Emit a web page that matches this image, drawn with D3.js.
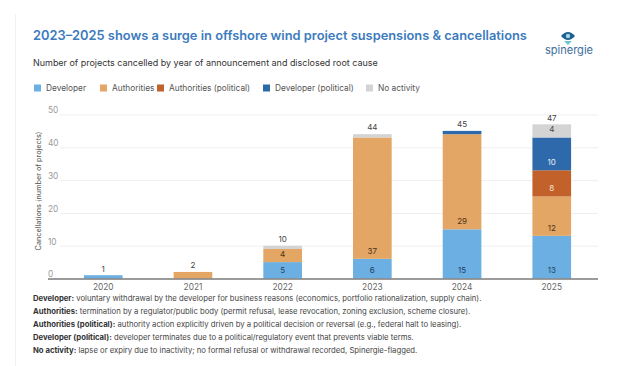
<!DOCTYPE html>
<html><head><meta charset="utf-8">
<script src="https://cdn.jsdelivr.net/npm/d3@7"></script>
<style>
html,body{margin:0;padding:0;background:#fff;}
svg{display:block;font-family:Inter,"Open Sans",sans-serif;}
</style></head>
<body><svg id="c" width="622" height="366"></svg>
<script>
// ---- data ----
const years = ["2020","2021","2022","2023","2024","2025"];
const seriesNames = ["Developer","Authorities","Authorities (political)","Developer (political)","No activity"];
const developer = [1,0,5,6,15,13];
const authorities = [0,2,4,37,29,12];
const authoritiesPolitical = [0,0,0,0,0,8];
const developerPolitical = [0,0,0,0,1,10];
const noActivity = [0,0,1,1,0,4];
const yTicks = [0,10,20,30,40,50];
const titleText = "2023–2025 shows a surge in offshore wind project suspensions & cancellations";
const subtitleText = "Number of projects cancelled by year of announcement and disclosed root cause";
const yTitle = "Cancellations (number of projects)";
const notes = [
  ["Developer:", " voluntary withdrawal by the developer for business reasons (economics, portfolio rationalization, supply chain)."],
  ["Authorities:", " termination by a regulator/public body (permit refusal, lease revocation, zoning exclusion, scheme closure)."],
  ["Authorities (political):", " authority action explicitly driven by a political decision or reversal (e.g., federal halt to leasing)."],
  ["Developer (political):", " developer terminates due to a political/regulatory event that prevents viable terms."],
  ["No activity:", " lapse or expiry due to inactivity; no formal refusal or withdrawal recorded, Spinergie-flagged."]
];

// ---- styles ----
const colors = ["#6cb0e3","#e4a664","#c2622a","#2e6aab","#d4d4d4"];
const labelColors = ["#23405e","#4a3318","#f6e3d4","#e6eef8","#444"];

const svg = d3.select("#c");
function fit(sel, target){
  const w = sel.node().getComputedTextLength();
  const fs = parseFloat(sel.attr("font-size"));
  sel.attr("font-size", (fs*target/w).toFixed(2));
}

// card border
svg.append("line").attr("x1",15.5).attr("x2",15.5).attr("y1",14).attr("y2",366)
  .attr("stroke","#edf2f8").attr("stroke-width",1);

// title
const t = svg.append("text").attr("x",33).attr("y",40).attr("font-size",15)
  .attr("font-weight",600).attr("fill","#3c7bbd").text(titleText);
fit(t, 494);
const st = svg.append("text").attr("x",33).attr("y",66).attr("font-size",9)
  .attr("fill","#333").text(subtitleText);
fit(st, 345);

// logo
const logo = svg.append("g");
logo.append("path").attr("d","M561,36 Q568,28 575,36 Q568,44 561,36 Z").attr("fill","#1f5f8f");
logo.append("circle").attr("cx",568).attr("cy",36).attr("r",2.2).attr("fill","#9fd6e8");
logo.append("path").attr("d","M564,41 L572,41 L568,45 Z").attr("fill","#43b7c9").attr("opacity",0.8);
const lt = svg.append("text").attr("x",545).attr("y",54).attr("font-size",10)
  .attr("fill","#3d6e9c").text("spinergie");
fit(lt, 48);

// legend
const legX = [34,100,157,263,366];
const leg = svg.append("g");
seriesNames.forEach((n,i)=>{
  leg.append("rect").attr("x",legX[i]).attr("y",84.5).attr("width",7).attr("height",7).attr("fill",colors[i]);
  leg.append("text").attr("x",legX[i]+12).attr("y",91).attr("font-size",8.3).attr("fill","#555").text(n);
});

// scales
const x = d3.scaleBand().domain(years).range([57,598]).paddingInner(0.569).paddingOuter(0.3);
const y = d3.scaleLinear().domain([0,50]).range([278.5,114.5]);

// gridlines
svg.append("g").selectAll("line").data(yTicks.filter(d=>d>0)).join("line")
  .attr("x1",60).attr("x2",598).attr("y1",d=>y(d)+0.5).attr("y2",d=>y(d)+0.5)
  .attr("stroke","#efefef").attr("stroke-width",1);

// y tick labels via axis
const ya = svg.append("g").attr("transform","translate(48,0)")
  .call(d3.axisRight(y).tickValues(yTicks).tickSize(0).tickPadding(0).tickFormat(d3.format("d")));
ya.select(".domain").remove();
ya.selectAll("text").attr("font-size",8.3).attr("fill","#999").attr("font-family","Inter,'Open Sans',sans-serif")
  .attr("dy","-0.2em").attr("x",0);

// y title
const yt = svg.append("text").attr("transform","translate(41,191) rotate(-90)")
  .attr("text-anchor","middle").attr("font-size",8.5).attr("fill","#555").text(yTitle);
fit(yt, 119);

// stack
const table = years.map((yr,i)=>({year:yr, s0:developer[i], s1:authorities[i], s2:authoritiesPolitical[i], s3:developerPolitical[i], s4:noActivity[i]}));
const keys = ["s0","s1","s2","s3","s4"];
const stacked = d3.stack().keys(keys)(table);

const bars = svg.append("g");
stacked.forEach((layer,li)=>{
  bars.append("g").selectAll("rect").data(layer.filter(d=>d[1]-d[0]>0)).join("rect")
    .attr("x",d=>x(d.data.year)).attr("width",x.bandwidth())
    .attr("y",d=>y(d[1])).attr("height",d=>y(d[0])-y(d[1]))
    .attr("fill",colors[li]);
  bars.append("g").selectAll("text").data(layer.filter(d=>d[1]-d[0]>=4)).join("text")
    .attr("x",d=>x(d.data.year)+x.bandwidth()/2).attr("y",d=>y(d[0])-8)
    .attr("dy","0.35em").attr("text-anchor","middle").attr("font-size",8)
    .attr("fill",labelColors[li]).text(d=>d[1]-d[0]);
});

// totals
svg.append("g").selectAll("text").data(table).join("text")
  .attr("x",d=>x(d.year)+x.bandwidth()/2)
  .attr("y",d=>y(d.s0+d.s1+d.s2+d.s3+d.s4)-6.5).attr("dy","0.35em")
  .attr("text-anchor","middle").attr("font-size",8).attr("fill","#444")
  .text(d=>d.s0+d.s1+d.s2+d.s3+d.s4);

// x axis
const xa = svg.append("g").attr("transform","translate(0,278.5)")
  .call(d3.axisBottom(x).tickSize(0).tickPadding(6));
xa.select(".domain").remove();
svg.append("line").attr("x1",48).attr("x2",598).attr("y1",279).attr("y2",279)
  .attr("stroke","#7a7a7a").attr("stroke-width",1.3);
xa.selectAll("text").attr("font-size",8.3).attr("fill","#666").attr("font-family","Inter,'Open Sans',sans-serif");

// notes
const ng = svg.append("g");
notes.forEach((n,i)=>{
  const tx = ng.append("text").attr("x",33).attr("y",301+13*i).attr("font-size",7.5).attr("fill","#444");
  tx.append("tspan").attr("font-weight",700).attr("fill","#333").text(n[0]);
  tx.append("tspan").text(n[1]);
  if(i===0) fit(tx, 449);
});
const fs0 = ng.select("text").attr("font-size");
ng.selectAll("text").attr("font-size",fs0);
</script></body></html>
